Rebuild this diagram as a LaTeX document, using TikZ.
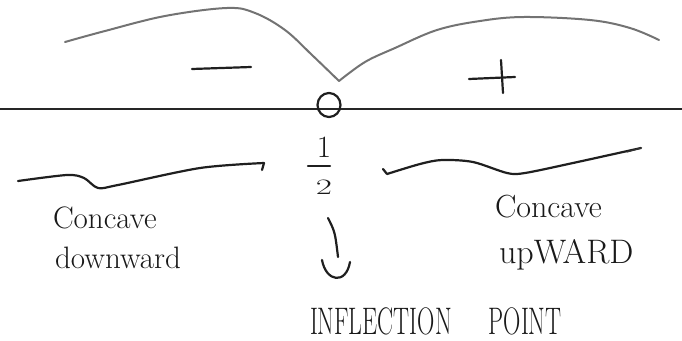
\documentclass[tikz,border=0pt]{standalone}
\usepackage{graphicx}
\usetikzlibrary{shapes.geometric}
\begin{document}
\begin{tikzpicture}[x=1pt,y=-1pt,
  pen/.style={line width=2.2pt,line cap=round,line join=round,black!88},
  graypen/.style={line width=2pt,line cap=round,line join=round,black!55},
  axisline/.style={line width=1.8pt,black!85},
  hand/.style={inner sep=0pt,outer sep=0pt,text=black!90}]
\useasboundingbox (0,0) rectangle (682,340);
% top sign curve
\coordinate (cusp) at (339,81);
\draw[graypen] plot[smooth,tension=0.6] coordinates {(65,42) (105,31) (165,16) (227,8) (255,13) (285,30) (312,55) (cusp)};
\draw[graypen] plot[smooth,tension=0.6] coordinates {(cusp) (365,62) (395,48) (437,30) (480,21) (524,17) (590,20) (630,28) (659,40)};
% signs
\draw[pen] (192,69) -- (251,67);
\draw[pen] (469,79) -- (515,77);
\draw[pen] (501,60) -- (503,93);
% axis
\coordinate (axL) at (0,109);
\coordinate (axR) at (682,109);
\draw[axisline] (axL) -- (axR);
\node[draw,pen,ellipse,minimum width=23pt,minimum height=24pt,inner sep=0pt] (zero) at (329,105) {};
% fraction 1/2
\node[hand,font=\fontsize{31}{31}\selectfont] (one) at (324,147) {1};
\coordinate (barL) at (308,166);
\coordinate (barR) at (330,166);
\draw[pen] (barL) -- (barR);
\node[hand,font=\fontsize{22}{22}\selectfont] (two) at (324,187) {\scalebox{1.6}[1]{2}};
% lower curves
\draw[pen] plot[smooth,tension=0.5] coordinates {(18,181) (67,175) (84,178) (98,188) (118,185) (200,168) (264,163)} -- (262,170);
\draw[pen] (383,169) -- (387,174) plot[smooth,tension=0.5] coordinates {(387,174) (420,164) (442,160) (473,162) (507,173) (525,173) (573,163) (641,148)};
\draw[line width=1.2pt,line cap=round,black!80] (641,148) -- (627,152);
% arrow
\coordinate (arS) at (328,218);
\coordinate (arE) at (338,257);
\draw[pen] (arS) .. controls (335,232) .. (arE);
\coordinate (hdL) at (322,260);
\coordinate (hdR) at (350,262);
\draw[pen] (hdL) .. controls (326,282) and (346,285) .. (hdR);
% labels
\node[hand,anchor=base west,font=\fontsize{31}{31}\selectfont] (cl) at (53,228) {Concave};
\node[hand,anchor=base west,font=\fontsize{31}{31}\selectfont] (dl) at (55,268) {downward};
\node[hand,anchor=base west,font=\fontsize{32}{32}\selectfont] (cr) at (495,217) {Concave};
\node[hand,anchor=base west,font=\fontsize{34}{34}\selectfont] (ur) at (499,263) {upWARD};
\node[hand,anchor=base west,font=\fontsize{24}{24}\selectfont] (ip) at (310,334) {\scalebox{1}[1.6]{INFLECTION\hspace{37pt}POINT}};
\end{tikzpicture}
\end{document}
